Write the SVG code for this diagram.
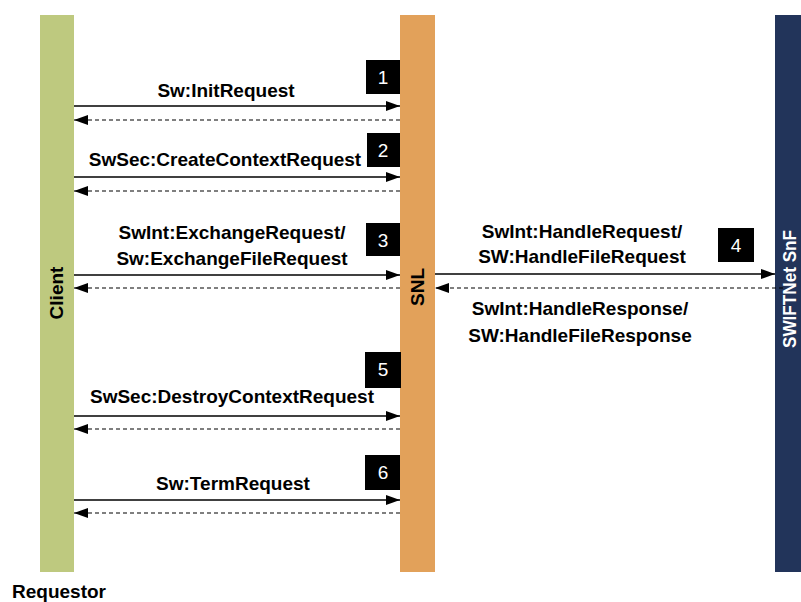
<svg xmlns="http://www.w3.org/2000/svg" width="801" height="602" viewBox="0 0 801 602">
<defs>
<marker id="ah" markerWidth="14" markerHeight="10" refX="14" refY="5" orient="auto" markerUnits="userSpaceOnUse">
<path d="M0,0 L14,5 L0,10 Z" fill="#000"/>
</marker>
<style>
.lbl{font-family:"Liberation Sans",Arial,sans-serif;font-weight:bold;font-size:19px;fill:#000;text-anchor:middle}
.num{font-family:"Liberation Sans",Arial,sans-serif;font-size:19px;fill:#fff;text-anchor:middle}
.req{stroke:#000;stroke-width:1.5;fill:none;marker-end:url(#ah)}
.rsp{stroke:#000;stroke-width:1.2;fill:none;stroke-dasharray:4,3;marker-end:url(#ah)}
.box{fill:#000}
</style>
</defs>
<rect width="801" height="602" fill="#fff"/>
<g id="client">
<rect x="40" y="15" width="34" height="557" fill="#BEC97F"/>
<text class="lbl" transform="translate(63,293) rotate(-90)">Client</text>
</g>
<g id="snl">
<rect x="400" y="15" width="35" height="557" fill="#E2A15A"/>
<text class="lbl" transform="translate(424,287) rotate(-90)">SNL</text>
</g>
<g id="swiftnet">
<rect x="775" y="15" width="26" height="557" fill="#22345A"/>
<text class="lbl" style="fill:#fff" transform="translate(796,289) rotate(-90)" textLength="118" lengthAdjust="spacingAndGlyphs">SWIFTNet SnF</text>
</g>
<text class="lbl" x="12" y="598" style="text-anchor:start">Requestor</text>
<g id="steps">
<rect class="box" x="366" y="60" width="34" height="34"/><text class="num" x="383" y="84">1</text>
<rect class="box" x="367" y="133" width="33" height="34"/><text class="num" x="383" y="157">2</text>
<rect class="box" x="366" y="223" width="34" height="33"/><text class="num" x="383" y="247">3</text>
<rect class="box" x="718" y="228" width="36" height="34"/><text class="num" x="736" y="252">4</text>
<rect class="box" x="365" y="352" width="36" height="36"/><text class="num" x="383" y="376">5</text>
<rect class="box" x="365" y="455" width="35" height="35"/><text class="num" x="383" y="479">6</text>
</g>
<g id="connectors">
<line class="req" x1="74" y1="106" x2="400" y2="106"/>
<line class="rsp" x1="400" y1="120" x2="74" y2="120"/>
<line class="req" x1="74" y1="177" x2="400" y2="177"/>
<line class="rsp" x1="400" y1="191" x2="74" y2="191"/>
<line class="req" x1="74" y1="275" x2="400" y2="275"/>
<line class="rsp" x1="400" y1="288" x2="74" y2="288"/>
<line class="req" x1="435" y1="274" x2="775" y2="274"/>
<line class="rsp" x1="783" y1="288" x2="435" y2="288"/>
<line class="req" x1="74" y1="416" x2="400" y2="416"/>
<line class="rsp" x1="400" y1="429" x2="74" y2="429"/>
<line class="req" x1="74" y1="500" x2="400" y2="500"/>
<line class="rsp" x1="400" y1="513" x2="74" y2="513"/>
</g>
<g id="labels">
<text class="lbl" x="226" y="97">Sw:InitRequest</text>
<text class="lbl" x="225" y="166">SwSec:CreateContextRequest</text>
<text class="lbl" x="232" y="239">SwInt:ExchangeRequest/</text>
<text class="lbl" x="232" y="265">Sw:ExchangeFileRequest</text>
<text class="lbl" x="582" y="238">SwInt:HandleRequest/</text>
<text class="lbl" x="582" y="263">SW:HandleFileRequest</text>
<text class="lbl" x="580" y="315">SwInt:HandleResponse/</text>
<text class="lbl" x="580" y="342">SW:HandleFileResponse</text>
<text class="lbl" x="232" y="403">SwSec:DestroyContextRequest</text>
<text class="lbl" x="233" y="490">Sw:TermRequest</text>
</g>
</svg>
